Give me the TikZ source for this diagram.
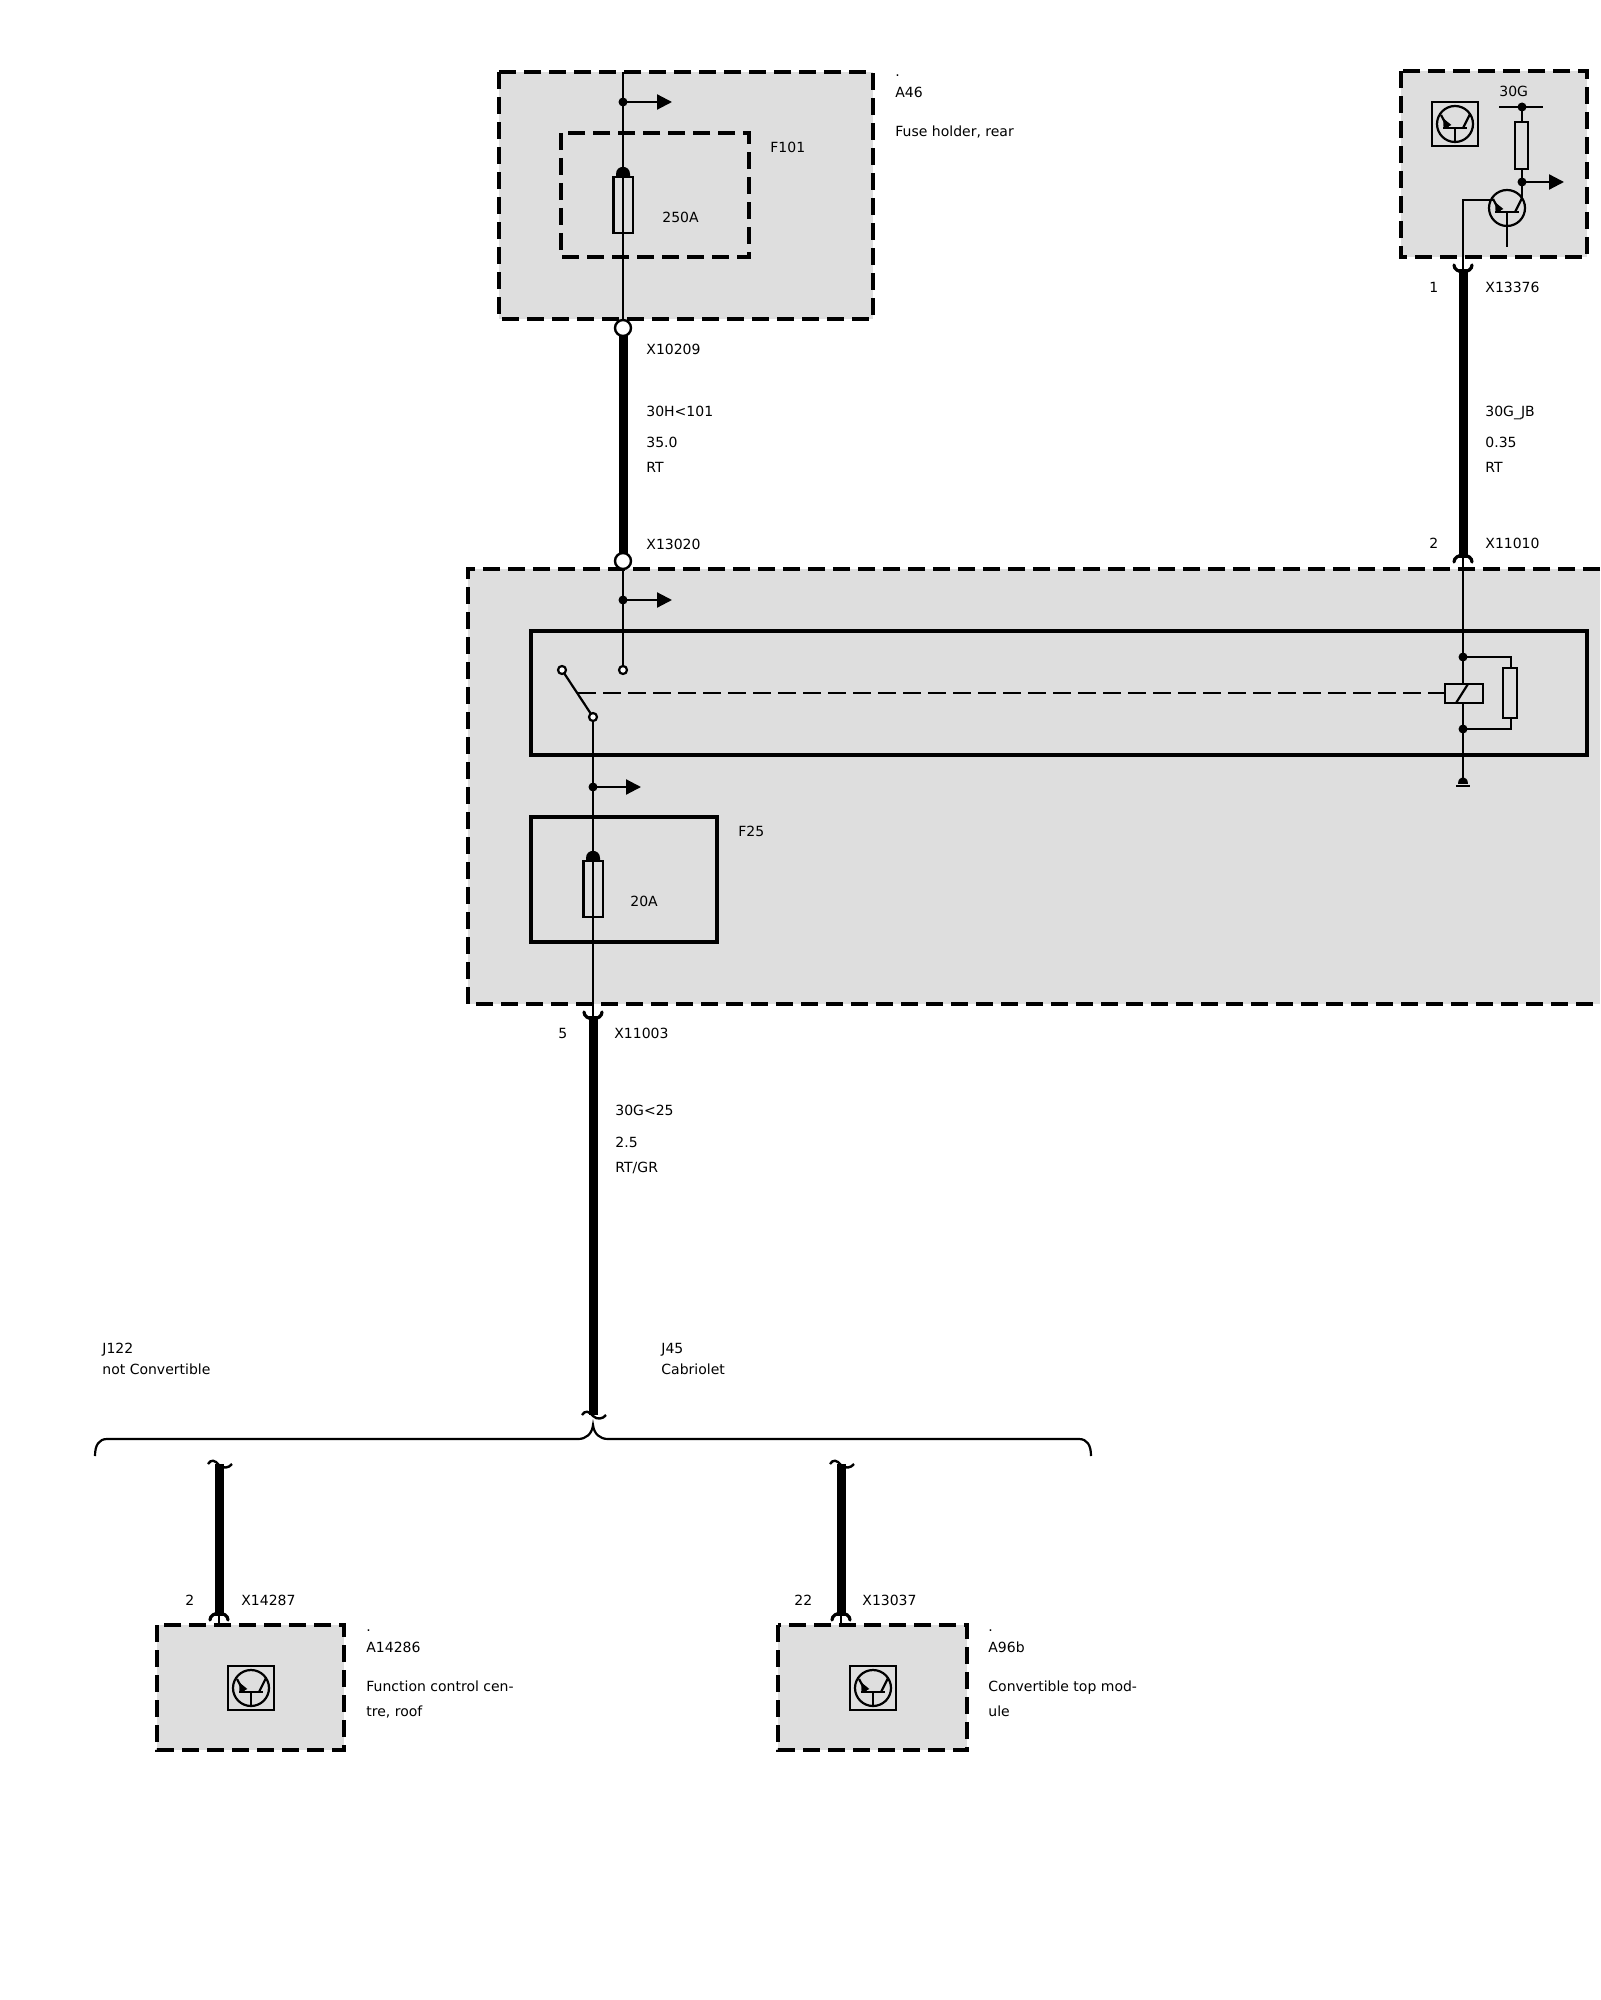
\documentclass[tikz,border=0pt]{standalone}
\usepackage{fontspec}
\setmainfont{DejaVu Sans}
\usetikzlibrary{arrows.meta}
\definecolor{boxgray}{HTML}{DEDEDE}
\tikzset{
  wire/.style={line width=1.1pt},
  cable/.style={line width=4.5pt},
  modbox/.style={fill=boxgray,line width=2.4pt,dash pattern=on 8.5pt off 4pt},
  fusebox/.style={line width=2.2pt,dash pattern=on 8.5pt off 4pt},
  relbox/.style={line width=2.3pt,line join=miter},
  lab/.style={anchor=base west,inner sep=0pt,font=\fontsize{7}{8}\selectfont},
  tap/.style={wire,-{Triangle[length=7.5pt,width=7.5pt]}},
  pics/trans/.style={code={
    \draw[wire] (0,0) circle (18);
    \draw[wire] (-12,4) -- (12,4);
    \draw[wire] (0,4) -- (0,18);
    \draw[wire] (-7,4) -- (-14,-9);
    \draw[wire,-{Triangle[length=5pt,width=4pt]}] (-7,4) -- (-12,-6);
    \draw[wire] (8,4) -- (15,-10);
  }},
  pics/icon/.style={code={
    \draw[wire] (-23,-22) rectangle (23,22);
    \pic at (0,0) {trans};
  }},
  pics/fuse/.style={code={
    \fill (-7,0) -- (-7,-3) .. controls (-7,-12.5) and (7,-12.5) .. (7,-3) -- (7,0) -- cycle;
    \draw[wire] (-9.5,0) rectangle (10,56);
  }},
  % plug seen from the cable end
  pics/plugup/.style={code={
    \draw[line width=1.6pt,line cap=round] (-9,-4) .. controls (-9,5) and (9,5) .. (9,-4);
  }},
  pics/plugdown/.style={code={
    \draw[line width=1.6pt,line cap=round] (-9,4) .. controls (-9,-5) and (9,-5) .. (9,4);
  }},
  pics/cut/.style={code={
    \draw[line width=1.2pt] (-11,0) .. controls (-8,-5) and (-4,-4) .. (0,1) .. controls (4,5) and (10,4) .. (13,0);
  }},
}

\begin{document}
\begin{tikzpicture}[x=0.5pt,y=-0.5pt]
\useasboundingbox (0,0) rectangle (1600,2000);
% Points on the wires
\coordinate (top) at (623,72);
\coordinate (tapa) at (623,102);
\coordinate (fusea) at (623,177);
\coordinate (ringa) at (623,328);
\coordinate (ringb) at (623,561);
\coordinate (tapb) at (623,600);
\coordinate (conb) at (623,670);
\coordinate (cona) at (562,670);
\coordinate (conc) at (593,717);
\coordinate (tapc) at (593,787);
\coordinate (fuseb) at (593,861);
\coordinate (plugc) at (593,1016);
\coordinate (cutc) at (593,1415);
\coordinate (cutd) at (219,1464);
\coordinate (plugd) at (219,1616);
\coordinate (cute) at (841,1464);
\coordinate (puge) at (841,1616);
\coordinate (rail) at (1522,107);
\coordinate (tapr) at (1522,182);
\coordinate (trancol) at (1522,198);
\coordinate (tranbase) at (1493,200);
\coordinate (corner) at (1463,200);
\coordinate (plugr) at (1463,269);
\coordinate (plugs) at (1463,558);
\coordinate (juna) at (1463,657);
\coordinate (junb) at (1463,729);
\coordinate (earth) at (1463,783);
% Grey modules
\draw[modbox] (499,72) rectangle (873,319);
\fill[boxgray] (468,569) rectangle (1600,1004);
\draw[modbox,fill=none] (1600,569) -- (468,569) -- (468,1004) -- (1600,1004);
\draw[modbox] (1401,71) rectangle (1587,257);
\draw[modbox] (157,1625) rectangle (344,1750);
\draw[modbox] (778,1625) rectangle (967,1750);
% Inner boxes
\draw[fusebox] (561,133) rectangle (749,257);
\draw[relbox] (531,631) rectangle (1587,755);
\draw[relbox] (531,817) rectangle (717,942);
% Thin wires
\draw[wire] (top) -- (ringa);
\draw[wire] (ringb) -- (conb);
\draw[wire] (conc) -- (plugc);
\draw[wire] (plugs) -- (earth);
\draw[wire] (rail) -- (trancol);
\draw[wire] (tranbase) -- (corner) -- (plugr);
\draw[wire] (1499,107) -- (1543,107);
\draw[wire] (plugd) -- (219,1625);
\draw[wire] (puge) -- (841,1625);
\draw[wire] (juna) -- (1511,657) -- (1511,729) -- (junb);
% Cables
\draw[cable] (ringa) -- (ringb);
\draw[cable] (plugr) -- (plugs);
\draw[cable] (plugc) -- (cutc);
\draw[cable] (cutd) -- (plugd);
\draw[cable] (cute) -- (puge);
% Plugs and cuts
\pic at (plugr) {plugup};
\pic at (plugs) {plugdown};
\pic at (plugc) {plugup};
\pic at (plugd) {plugdown};
\pic at (puge) {plugdown};
\pic at (cutc) {cut};
\pic at (cutd) {cut};
\pic at (cute) {cut};
% Bracket
\draw[wire] (95,1456) .. controls (95,1445) and (99,1439) .. (107,1439) -- (578,1439)
  .. controls (586,1439) and (592,1434) .. (593,1425)
  .. controls (594,1434) and (600,1439) .. (608,1439) -- (1079,1439)
  .. controls (1087,1439) and (1091,1445) .. (1091,1456);
% Fuses
\pic at (fusea) {fuse};
\pic at (fuseb) {fuse};
% Rings
\draw[line width=1.2pt,fill=white] (ringa) circle (8);
\draw[line width=1.2pt,fill=white] (ringb) circle (8);
% Side branches
\draw[tap] (tapa) -- (672,102);
\draw[tap] (tapb) -- (672,600);
\draw[tap] (tapc) -- (641,787);
\draw[tap] (tapr) -- (1564,182);
% Relay
\draw[wire] (cona) -- (conc);
\draw[wire,fill=white] (cona) circle (4);
\draw[wire,fill=white] (conb) circle (4);
\draw[wire,fill=white] (conc) circle (4);
\draw[wire,dash pattern=on 9pt off 3.5pt] (578,693) -- (1445,693);
\draw[wire,fill=boxgray] (1445,684) rectangle (1483,703);
\draw[wire] (1456,703) -- (1468,684);
\draw[wire,fill=boxgray] (1503,668) rectangle (1517,718);
% Resistor and transistor
\draw[wire,fill=boxgray] (1515,122) rectangle (1528,169);
\pic at (1507,208) {trans};
\draw[wire] (1507,226) -- (1507,247);
\pic at (1455,124) {icon};
\pic at (251,1688) {icon};
\pic at (873,1688) {icon};
% Points at the junctions
\fill (tapa) circle (4.5);
\fill (tapb) circle (4.5);
\fill (tapc) circle (4.5);
\fill (rail) circle (4.5);
\fill (tapr) circle (4.5);
\fill (juna) circle (4.5);
\fill (junb) circle (4.5);
% Earth
\fill (1458,784) .. controls (1458,775) and (1468,775) .. (1468,784) -- cycle;
\draw[line width=1.1pt] (1456,786) -- (1470,786);
% Labels
\node[lab] (dota) at (895,77) {.};
\node[lab] (namea) at (895,98) {A46};
\node[lab] (texta) at (895,137) {Fuse holder, rear};
\node[lab] (namef) at (770,153) {F101};
\node[lab] (ampa) at (662,223) {250A};
\node[lab] (xa) at (646,355) {X10209};
\node[lab] (siga) at (646,417) {30H<101};
\node[lab] (sizea) at (646,448) {35.0};
\node[lab] (cola) at (646,473) {RT};
\node[lab] (xb) at (646,549) {X13020};
\node[lab] (railtxt) at (1499,97) {30G};
\node[lab] (pinr) at (1429,293) {1};
\node[lab] (xr) at (1485,293) {X13376};
\node[lab] (sigr) at (1485,417) {30G\_JB};
\node[lab] (sizer) at (1485,448) {0.35};
\node[lab] (colr) at (1485,473) {RT};
\node[lab] (pins) at (1429,548) {2};
\node[lab] (xs) at (1485,548) {X11010};
\node[lab] (nameg) at (738,836) {F25};
\node[lab] (ampb) at (630,906) {20A};
\node[lab] (pinc) at (558,1038) {5};
\node[lab] (xc) at (614,1038) {X11003};
\node[lab] (sigc) at (615,1115) {30G<25};
\node[lab] (sizec) at (615,1147) {2.5};
\node[lab] (colc) at (615,1172) {RT/GR};
\node[lab] (optd) at (102,1353) {J122};
\node[lab] (optdt) at (102,1374) {not Convertible};
\node[lab] (opte) at (661,1353) {J45};
\node[lab] (optet) at (661,1374) {Cabriolet};
\node[lab] (pind) at (185,1605) {2};
\node[lab] (xd) at (241,1605) {X14287};
\node[lab] (dotd) at (366,1631) {.};
\node[lab] (named) at (366,1652) {A14286};
\node[lab] (textd) at (366,1691) {Function control cen-};
\node[lab] (textdb) at (366,1716) {tre, roof};
\node[lab] (pine) at (794,1605) {22};
\node[lab] (xe) at (862,1605) {X13037};
\node[lab] (dote) at (988,1631) {.};
\node[lab] (namee) at (988,1652) {A96b};
\node[lab] (texte) at (988,1691) {Convertible top mod-};
\node[lab] (texteb) at (988,1716) {ule};
\end{tikzpicture}
\end{document}
